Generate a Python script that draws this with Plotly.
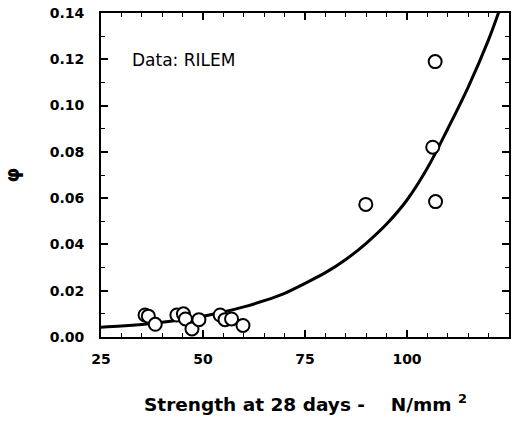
import plotly.graph_objects as go

# Measured points: strength at 28 days (N/mm2) vs phi
strength = [35.8, 36.6, 38.3, 43.6, 45.2, 45.7, 47.3, 49.0, 54.2, 55.4, 57.0, 59.8,
            89.9, 106.3, 107.0, 106.9]
phi = [0.0095, 0.0090, 0.0055, 0.0095, 0.0100, 0.0078, 0.0035, 0.0075, 0.0095, 0.0075,
       0.0078, 0.0050, 0.0573, 0.0820, 0.0585, 0.1190]

# Fitted trend curve
fit_x = [25, 30, 35, 40, 45, 50, 55, 60, 65, 70, 75, 80, 85, 90, 95, 100, 105, 110,
         115, 120, 123]
fit_y = [0.0042, 0.0047, 0.0054, 0.0064, 0.0076, 0.0090, 0.0108, 0.0130, 0.0157, 0.0189,
         0.0232, 0.0278, 0.0335, 0.0405, 0.0488, 0.0592, 0.0730, 0.0900, 0.1080, 0.1285,
         0.1430]

x_ticks = [25, 50, 75, 100, 125]
y_ticks = [0.00, 0.02, 0.04, 0.06, 0.08, 0.10, 0.12, 0.14]

font_family = "DejaVu Sans, Arial, sans-serif"

fig = go.Figure()
fig.add_trace(go.Scatter(
    x=fit_x, y=fit_y, mode="lines", line=dict(color="black", width=3, shape="spline"),
    hoverinfo="skip", showlegend=False))
fig.add_trace(go.Scatter(
    x=strength, y=phi, mode="markers",
    marker=dict(symbol="circle", size=13, color="white", line=dict(color="black", width=2)),
    showlegend=False))

axis_common = dict(
    showgrid=False, zeroline=False, showline=True, linecolor="black", linewidth=2,
    mirror="ticks", ticks="inside", ticklen=7, tickwidth=2, tickcolor="black",
    automargin=False,
    tickfont=dict(family=font_family, size=14, color="black", weight="bold"),
)

fig.update_layout(
    width=523, height=427, plot_bgcolor="white", paper_bgcolor="white",
    margin=dict(l=101, r=14, t=13, b=90),
    xaxis=dict(range=[25, 125], tickvals=x_ticks, ticktext=[str(v) for v in x_ticks],
               ticklabelstandoff=8,
               minor=dict(dtick=5, ticks="inside", ticklen=4, tickwidth=1, tickcolor="black"),
               **axis_common),
    yaxis=dict(range=[0, 0.14], tickvals=y_ticks, ticktext=[f"{v:.2f}" for v in y_ticks],
               ticklabelstandoff=12,
               minor=dict(dtick=0.01, ticks="inside", ticklen=4, tickwidth=1, tickcolor="black"),
               **axis_common),
    annotations=[
        dict(text="Data: RILEM", x=0.072, y=0.855, xref="paper", yref="paper",
             xanchor="left", yanchor="middle", showarrow=False,
             font=dict(family=font_family, size=17, color="black")),
        dict(text="Strength at 28 days -    N/mm <sup>2</sup>", x=0.5, y=-0.205,
             xref="paper", yref="paper", xanchor="center", yanchor="middle", showarrow=False,
             font=dict(family=font_family, size=18.5, color="black", weight="bold")),
        dict(text="φ", x=-0.217, y=0.5, xref="paper", yref="paper", textangle=-90,
             xanchor="center", yanchor="middle", showarrow=False,
             font=dict(family=font_family, size=19, color="black", weight="bold")),
    ],
)

fig.write_html("out.html")
